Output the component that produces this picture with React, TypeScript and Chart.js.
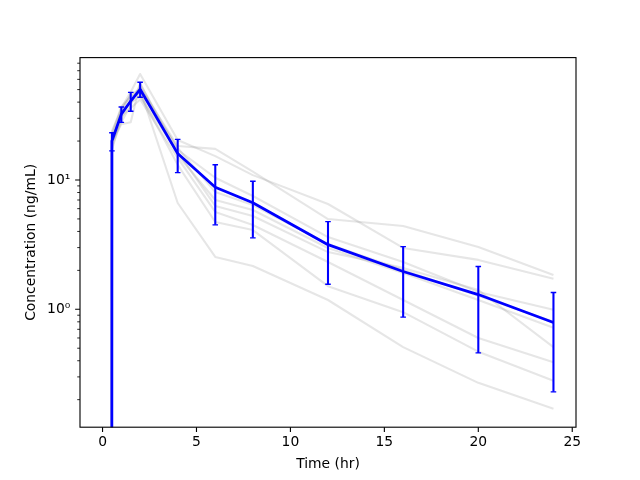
import React, { useEffect, useRef } from 'react';
import { Chart, registerables } from 'chart.js';

Chart.register(...registerables);

// Sampling times (hr)
const times = [0, 0.5, 1, 1.5, 2, 4, 6, 8, 12, 16, 20, 24];

// Mean concentration (ng/mL) and its SD
const meanConc = [0, 20.0, 32.3, 40.8, 50.3, 16.0, 8.8, 6.67, 3.16, 1.96, 1.3, 0.79];
const sdConc = [0, 3.2, 4.4, 6.8, 6.7, 4.6, 4.3, 3.1, 1.6, 1.09, 0.84, 0.56];

// Individual subject profiles (ng/mL)
const subject1 = [0, 19, 30, 42, 52, 18.3, 17.4, 11.6, 4.99, 4.41, 3.03, 1.84];
const subject2 = [0, 22, 36, 48, 66, 20.4, 15.3, 10.9, 6.52, 2.98, 2.41, 1.72];
const subject3 = [0, 18, 28, 38, 55, 17.1, 10.4, 7.52, 3.62, 2.32, 1.36, 0.99];
const subject4 = [0, 24, 35, 45, 48, 17.7, 8.08, 6.41, 3.2, 2.01, 1.27, 0.8];
const subject5 = [0, 20, 27, 28, 56, 15.6, 7.0, 5.86, 2.98, 1.91, 1.18, 0.72];
const subject6 = [0, 21, 33, 40, 44, 16.5, 6.3, 5.27, 2.77, 2.09, 1.41, 0.51];
const subject7 = [0, 17, 31, 36, 42, 14.8, 5.66, 4.49, 2.32, 1.18, 0.6, 0.39];
const subject8 = [0, 23, 37, 44, 46, 13.1, 4.73, 4.1, 1.51, 0.95, 0.47, 0.28];
const subject9 = [0, 20, 34, 46, 50, 6.64, 2.54, 2.16, 1.18, 0.51, 0.27, 0.17];
const subjects = [subject1, subject2, subject3, subject4, subject5, subject6, subject7, subject8, subject9];

// Tick values / labels
const xTickValues = [0, 5, 10, 15, 20, 25];
const yMajorTicks = [1, 10];
const yMajorLabels = ['10⁰', '10¹'];
const yMinorTicks = [0.2, 0.3, 0.4, 0.5, 0.6, 0.7, 0.8, 0.9, 2, 3, 4, 5, 6, 7, 8, 9, 20, 30, 40, 50, 60, 70, 80];

const PT = 100 / 72;
const FONT = { family: 'DejaVu Sans', size: 10 * PT };

// matplotlib-like "clip" of non-positive values on a log axis
const clipLog = (v: number) => (v > 0 ? v : 1e-300);

const axesPlugin = {
  id: 'axesPlugin',
  afterDatasetsDraw(chart: any) {
    const { ctx, chartArea } = chart;
    const { left, right, top, bottom } = chartArea;
    const xs = chart.scales.x;
    const ys = chart.scales.y;

    // error bars
    ctx.save();
    ctx.beginPath();
    ctx.rect(left, top, right - left, bottom - top);
    ctx.clip();
    ctx.strokeStyle = '#0000ff';
    const capHalf = 2 * PT;
    times.forEach((t, i) => {
      const sd = sdConc[i];
      if (!(sd > 0)) return;
      const px = xs.getPixelForValue(t);
      const yHi = ys.getPixelForValue(meanConc[i] + sd);
      const yLo = ys.getPixelForValue(clipLog(meanConc[i] - sd));
      ctx.lineWidth = 1.5 * PT;
      ctx.lineCap = 'butt';
      ctx.beginPath();
      ctx.moveTo(px, yHi);
      ctx.lineTo(px, yLo);
      ctx.stroke();
      ctx.lineWidth = 1.0 * PT;
      ctx.beginPath();
      ctx.moveTo(px - capHalf, yHi);
      ctx.lineTo(px + capHalf, yHi);
      ctx.moveTo(px - capHalf, yLo);
      ctx.lineTo(px + capHalf, yLo);
      ctx.stroke();
    });
    ctx.restore();

    // ticks and frame
    ctx.save();
    ctx.strokeStyle = '#000';
    ctx.lineCap = 'butt';
    ctx.lineWidth = 0.8 * PT;
    ctx.beginPath();
    xTickValues.forEach((v) => {
      const px = xs.getPixelForValue(v);
      ctx.moveTo(px, bottom);
      ctx.lineTo(px, bottom + 3.5 * PT);
    });
    yMajorTicks.forEach((v) => {
      const py = ys.getPixelForValue(v);
      ctx.moveTo(left, py);
      ctx.lineTo(left - 3.5 * PT, py);
    });
    ctx.stroke();
    ctx.lineWidth = 0.6 * PT;
    ctx.beginPath();
    yMinorTicks.forEach((v) => {
      const py = ys.getPixelForValue(v);
      if (py < top - 0.5 || py > bottom + 0.5) return;
      ctx.moveTo(left, py);
      ctx.lineTo(left - 2 * PT, py);
    });
    ctx.stroke();
    ctx.lineWidth = 0.8 * PT;
    ctx.strokeRect(left, top, right - left, bottom - top);
    ctx.restore();
  },
};

export default function App() {
  const ref = useRef<HTMLCanvasElement>(null);

  useEffect(() => {
    document.body.style.margin = '0';
    const canvas = ref.current;
    if (!canvas) return;

    const greyDatasets = subjects.map((s, k) => ({
      label: `Subject ${k + 1}`,
      data: times.map((t, i) => ({ x: t, y: clipLog(s[i]) })),
      borderColor: 'rgba(128,128,128,0.2)',
      backgroundColor: 'rgba(128,128,128,0.2)',
      borderWidth: 1.5 * PT,
      borderJoinStyle: 'round' as const,
      pointRadius: 0,
      tension: 0,
      fill: false,
      order: 1,
    }));

    const chart = new Chart(canvas, {
      type: 'line',
      data: {
        datasets: [
          {
            label: 'Mean',
            data: times.map((t, i) => ({ x: t, y: clipLog(meanConc[i]) })),
            borderColor: '#0000ff',
            backgroundColor: '#0000ff',
            borderWidth: 2 * PT,
            borderJoinStyle: 'round',
            pointRadius: 0,
            tension: 0,
            fill: false,
            order: 0,
          },
          ...greyDatasets,
        ],
      },
      options: {
        responsive: false,
        animation: false,
        events: [],
        layout: { padding: { left: 0, right: 64, top: 57.6, bottom: 0 } },
        plugins: { legend: { display: false }, tooltip: { enabled: false } },
        scales: {
          x: {
            type: 'linear',
            min: -1.2,
            max: 25.2,
            grid: { display: false, drawTicks: false, tickLength: 0 },
            border: { display: false },
            afterBuildTicks: (s: any) => {
              s.ticks = xTickValues.map((v) => ({ value: v }));
            },
            afterFit: (s: any) => {
              s.height = 480 - 427.2;
            },
            ticks: {
              autoSkip: false,
              maxRotation: 0,
              padding: 7,
              color: '#000',
              font: FONT,
              callback: (v: any) => String(v),
            },
            title: {
              display: true,
              text: 'Time (hr)',
              color: '#000',
              font: FONT,
              padding: { top: 0, bottom: 7.7 },
            },
          },
          y: {
            type: 'logarithmic',
            min: 0.1225,
            max: 88.4,
            grid: { display: false, drawTicks: false, tickLength: 0 },
            border: { display: false },
            afterBuildTicks: (s: any) => {
              s.ticks = [...yMinorTicks, ...yMajorTicks]
                .sort((a, b) => a - b)
                .map((v) => ({ value: v }));
            },
            afterFit: (s: any) => {
              s.width = 80;
            },
            ticks: {
              autoSkip: false,
              padding: 9.7,
              color: '#000',
              font: FONT,
              callback: (v: any) => {
                const idx = yMajorTicks.indexOf(Number(v));
                return idx >= 0 ? yMajorLabels[idx] : '';
              },
            },
            title: {
              display: true,
              text: 'Concentration (ng/mL)',
              color: '#000',
              font: FONT,
              padding: { top: 22.7, bottom: 0 },
            },
          },
        },
      },
      plugins: [axesPlugin],
    });

    return () => chart.destroy();
  }, []);

  return (
    <div style={{ width: 640, height: 480 }}>
      <canvas ref={ref} width={640} height={480} style={{ display: 'block' }} />
    </div>
  );
}
